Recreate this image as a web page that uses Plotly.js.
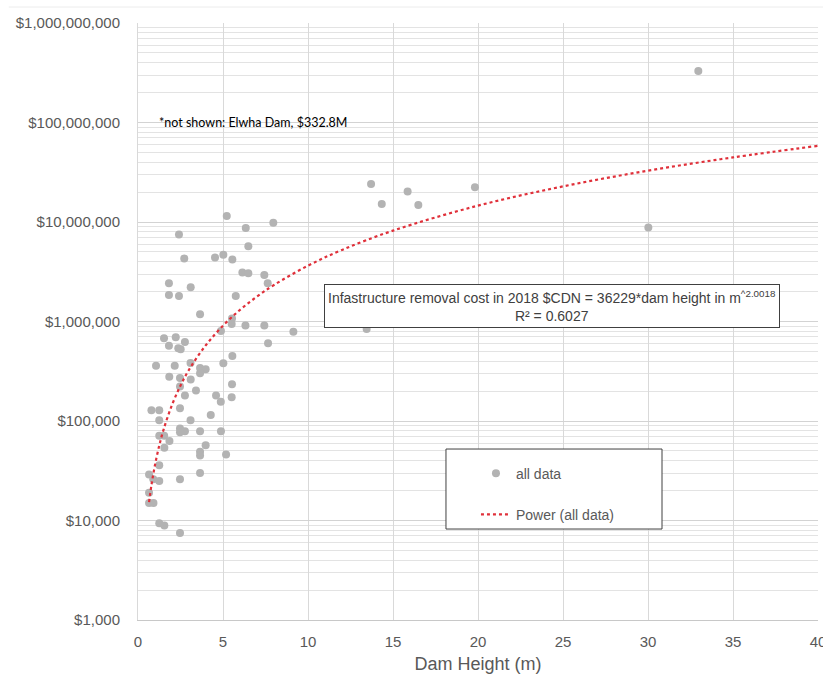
<!DOCTYPE html>
<html>
<head>
<meta charset="utf-8">
<script src="https://cdn.plot.ly/plotly-3.0.1.min.js"></script>
<style>html,body{margin:0;padding:0;background:#fff;overflow:hidden;}#chart{width:823px;height:678px;}</style>
</head>
<body>
<div id="chart"></div>
<script>
// Dam height (m) of each removed dam
const heights = [
  5.22, 6.34, 7.96, 2.41, 6.49, 2.72, 4.53, 5.02, 5.55, 6.14,
  6.49, 7.43, 7.63, 1.82, 3.10, 1.82, 2.41, 5.75, 3.65, 5.53,
  5.51, 6.32, 7.43, 9.14, 4.88, 1.53, 2.22, 2.76, 1.82, 2.37,
  2.51, 7.65, 5.55, 1.06, 2.16, 3.09, 5.02, 3.65, 3.98, 3.65,
  1.84, 2.47, 3.10, 2.47, 5.53, 3.41, 2.76, 4.59, 4.87, 5.51,
  2.47, 0.79, 1.25, 1.25, 3.09, 4.28, 2.47, 2.76, 2.47, 3.65,
  4.88, 1.25, 1.54, 1.85, 3.98, 1.55, 3.65, 3.65, 5.18, 1.25,
  0.65, 0.90, 1.25, 2.47, 3.65, 0.65, 0.65, 0.91, 1.25, 1.55,
  2.47, 13.71, 14.34, 15.86, 16.49, 19.82, 32.96, 30.02, 13.45
];
// Infrastructure removal cost (2018 $CDN)
const costs = [
  11500000, 8700000, 9800000, 7500000, 5700000, 4300000, 4400000, 4700000, 4200000, 3100000,
  3050000, 2930000, 2420000, 2420000, 2210000, 1850000, 1800000, 1800000, 1180000, 1070000,
  944000, 912000, 912000, 789000, 803000, 678000, 693000, 622000, 571000, 538000,
  526000, 604000, 450000, 360000, 360000, 383000, 380000, 341000, 331000, 302000,
  279000, 270000, 262000, 222000, 234000, 203000, 180000, 180000, 156000, 173000,
  134000, 128000, 128000, 102000, 102000, 115000, 84000, 79000, 77000, 79000,
  79000, 71000, 71000, 63000, 57000, 54000, 49000, 45000, 46000, 36000,
  29000, 26000, 25000, 26000, 30000, 19000, 15000, 15000, 9400, 8900,
  7500, 24100000, 15200000, 20200000, 14800000, 22300000, 330000000, 8800000, 841000
];
// Power trendline
const trendHeights = [0.65, 0.8, 1, 1.25, 1.5, 2, 2.5, 3, 4, 5, 6, 7, 8, 10, 12, 15, 20, 25, 30, 35, 40];
const trendCosts = [15300, 23200, 36200, 56600, 81500, 145000, 227000, 327000, 581000, 908000, 1310000, 1780000, 2330000, 3640000, 5240000, 8190000, 14600000, 22800000, 32800000, 44600000, 58300000];

const yTickVals = [1000, 10000, 100000, 1000000, 10000000, 100000000, 1000000000];
const yTickText = ['$1,000', '$10,000', '$100,000', '$1,000,000', '$10,000,000', '$100,000,000', '$1,000,000,000'];
const xTickVals = [0, 5, 10, 15, 20, 25, 30, 35, 40];

const seriesNames = ['all data', 'Power (all data)'];
const eqText = 'Infastructure removal cost in 2018 $CDN = 36229*dam height in m<sup>^2.0018</sup><br>R² = 0.6027';
const noteText = '*not shown: Elwha Dam, $332.8M';

const grey = '#595959';

const traces = [
  {
    x: heights, y: costs, type: 'scatter', mode: 'markers', name: seriesNames[0],
    legendgroup: 'a',
    marker: {color: '#b3b3b3', size: 8},
    hoverinfo: 'x+y'
  },
  {
    x: trendHeights, y: trendCosts, type: 'scatter', mode: 'lines', name: seriesNames[1],
    legendgroup: 'b',
    line: {color: '#e0303a', width: 2.2, dash: 'dot', shape: 'spline'},
    hoverinfo: 'skip'
  }
];

const layout = {
  width: 823, height: 678,
  margin: {l: 138, r: 5, t: 23, b: 58},
  paper_bgcolor: '#ffffff', plot_bgcolor: '#ffffff',
  font: {family: 'Liberation Sans, Arial, sans-serif', color: grey, size: 15},
  showlegend: true,
  legend: {
    x: 0.497, y: 0.272, xanchor: 'left', yanchor: 'top',
    bgcolor: 'rgba(0,0,0,0)', borderwidth: 0,
    traceorder: 'grouped', tracegroupgap: 20,
    font: {size: 14, color: grey}
  },
  xaxis: {
    range: [0, 40], tickmode: 'array', tickvals: xTickVals,
    showgrid: true, gridcolor: '#d9d9d9', gridwidth: 1,
    zeroline: false, showline: true, linecolor: '#c8c8c8', linewidth: 1,
    ticks: '', ticklabelstandoff: 8, ticklabeloverflow: 'allow',
    tickfont: {size: 15, color: grey},
    title: {text: 'Dam Height (m)', font: {size: 18, color: grey}, standoff: 8}
  },
  yaxis: {
    type: 'log', range: [3, 9],
    tickmode: 'array', tickvals: yTickVals, ticktext: yTickText,
    showgrid: true, gridcolor: '#d3d3d3', gridwidth: 1,
    minor: {tickmode: 'linear', dtick: 'D1', showgrid: true, gridcolor: '#e3e3e3', gridwidth: 1, ticks: ''},
    zeroline: false, showline: true, linecolor: '#d9d9d9', linewidth: 1,
    ticks: '', ticklabelstandoff: 14,
    tickfont: {size: 15, color: grey}
  },
  shapes: [
    {type: 'rect', xref: 'paper', yref: 'paper', x0: 0.4529, x1: 0.7706, y0: 0.1524, y1: 0.2864,
     line: {color: '#404040', width: 1}, fillcolor: 'rgba(255,255,255,1)', layer: 'above'},
    {type: 'line', xref: 'paper', yref: 'paper', x0: -0.19, x1: 1.01, y0: 1.0268, y1: 1.0268,
     line: {color: '#ececec', width: 1}}
  ],
  annotations: [
    {x: 1.12, y: 8.005, xref: 'x', yref: 'y', xanchor: 'left', yanchor: 'middle',
     text: noteText, showarrow: false, font: {family: 'Lato, sans-serif', size: 12.5, color: '#000000'}},
    {x: 24.35, y: 6.151, xref: 'x', yref: 'y', xanchor: 'center', yanchor: 'middle',
     text: eqText, showarrow: false, align: 'center',
     bgcolor: '#ffffff', bordercolor: '#404040', borderwidth: 1, borderpad: 3,
     font: {size: 14, color: '#404040'}}
  ]
};

Plotly.newPlot('chart', traces, layout, {displayModeBar: false, staticPlot: true});
</script>
</body>
</html>
